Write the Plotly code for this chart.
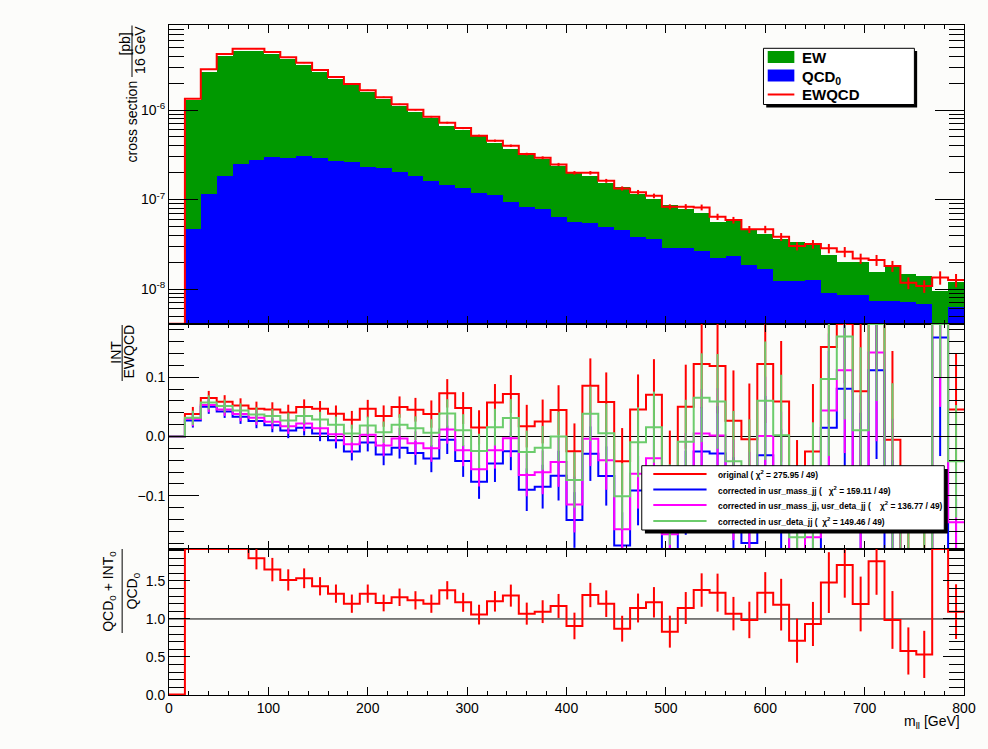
import plotly.graph_objects as go

# ---------------- data (16 GeV bins, 0..800 GeV) ----------------
bin_edges = list(range(0, 801, 16))
bin_centers = [e + 8 for e in bin_edges[:-1]]

# top panel: cross section [pb]/16 GeV
ewqcd = [0, 1.34e-6, 2.85e-6, 4.22e-6, 4.84e-6, 4.84e-6, 4.45e-6, 3.88e-6, 3.38e-6, 2.80e-6,
         2.34e-6, 1.95e-6, 1.66e-6, 1.39e-6, 1.158e-6, 1.008e-6, 8.41e-7, 7.22e-7, 6.29e-7, 5.16e-7,
         4.54e-7, 3.99e-7, 3.22e-7, 2.93e-7, 2.47e-7, 1.99e-7, 1.99e-7, 1.62e-7, 1.33e-7, 1.21e-7,
         1.10e-7, 8.31e-8, 8.31e-8, 8.18e-8, 6.43e-8, 5.90e-8, 4.65e-8, 4.65e-8, 3.84e-8, 3.02e-8,
         3.18e-8, 2.85e-8, 2.61e-8, 2.20e-8, 2.11e-8, 1.81e-8, 1.175e-8, 1.08e-8, 1.35e-8, 1.26e-8]
ewqcd_relerr = [0, 0.01, 0.01, 0.01, 0.01, 0.01, 0.01, 0.012, 0.012, 0.013,
                0.014, 0.015, 0.016, 0.017, 0.018, 0.02, 0.022, 0.024, 0.026, 0.028,
                0.03, 0.032, 0.035, 0.037, 0.04, 0.045, 0.045, 0.05, 0.055, 0.058,
                0.06, 0.065, 0.07, 0.075, 0.08, 0.085, 0.09, 0.095, 0.1, 0.105,
                0.11, 0.12, 0.13, 0.13, 0.14, 0.14, 0.15, 0.16, 0.17, 0.17]
# top of the EW + QCD0 stack
ew_plus_qcd0 = [0, 1.289e-6, 2.665e-6, 3.97e-6, 4.586e-6, 4.61e-6, 4.245e-6, 3.72e-6, 3.21e-6, 2.67e-6,
                2.25e-6, 1.895e-6, 1.582e-6, 1.342e-6, 1.100e-6, 9.63e-7, 8.09e-7, 6.69e-7, 5.99e-7, 5.08e-7,
                4.28e-7, 3.70e-7, 3.16e-7, 2.86e-7, 2.36e-7, 2.04e-7, 1.82e-7, 1.526e-7, 1.386e-7, 1.154e-7,
                1.022e-7, 8.79e-8, 7.89e-8, 7.17e-8, 5.66e-8, 5.74e-8, 4.67e-8, 4.08e-8, 3.61e-8, 3.37e-8,
                3.26e-8, 2.42e-8, 2.01e-8, 2.03e-8, 1.56e-8, 1.82e-8, 1.47e-8, 1.39e-8, 9.45e-9, 1.20e-8]
qcd0 = [0, 4.65e-8, 1.14e-7, 1.85e-7, 2.47e-7, 2.76e-7, 2.98e-7, 2.93e-7, 3.09e-7, 2.93e-7,
        2.71e-7, 2.62e-7, 2.33e-7, 2.23e-7, 2.01e-7, 1.85e-7, 1.61e-7, 1.44e-7, 1.34e-7, 1.18e-7,
        1.12e-7, 9.45e-8, 8.24e-8, 7.77e-8, 6.43e-8, 5.56e-8, 5.42e-8, 4.97e-8, 4.56e-8, 3.84e-8,
        3.59e-8, 2.89e-8, 2.89e-8, 2.68e-8, 2.22e-8, 2.34e-8, 1.85e-8, 1.67e-8, 1.23e-8, 1.23e-8,
        1.26e-8, 9.1e-9, 8.5e-9, 8.6e-9, 7.35e-9, 7.35e-9, 7.1e-9, 6.8e-9, 0, 6.34e-9]

# middle panel: INT / EWQCD
ratio_original = [0, 0.0379, 0.065, 0.0588, 0.0525, 0.0469, 0.0458, 0.0407, 0.0497, 0.0469,
                  0.0384, 0.0282, 0.0469, 0.0345, 0.0497, 0.0452, 0.0379, 0.0729, 0.048, 0.0153,
                  0.0576, 0.0718, 0.0175, 0.0254, 0.0446, -0.0249, 0.0859, 0.0582, -0.0418, 0.0458,
                  0.0706, -0.058, 0.0503, 0.1226, 0.119, 0.0266, -0.0045, 0.1226, 0.0593, -0.116,
                  -0.0254, 0.151, 0.23, 0.0763, 0.26, -0.0056, -0.25, -0.29, 0.30, 0.0458]
ratio_mass = [0, 0.0271, 0.0503, 0.0424, 0.0333, 0.026, 0.0192, 0.0102, 0.0147, 0.0051,
              -0.0062, -0.0254, -0.0102, -0.0305, -0.0192, -0.0277, -0.0373, -0.0056, -0.0412, -0.0763,
              -0.0458, -0.0249, -0.0898, -0.0847, -0.0661, -0.141, -0.029, -0.0667, -0.184, -0.091,
              -0.066, -0.19, -0.095, -0.0254, -0.0288, -0.12, -0.18, -0.0316, -0.09, -0.26,
              -0.2, 0.0147, 0.0808, -0.1, 0.112, -0.19, -0.38, -0.4, 0.167, -0.2]
ratio_mass_deta = [0, 0.0294, 0.0531, 0.0458, 0.0379, 0.0316, 0.0249, 0.0175, 0.022, 0.0141,
                   0.004, -0.013, 0.0028, -0.0153, -0.0034, -0.0113, -0.0198, 0.0119, -0.0232, -0.0554,
                   -0.0232, -0.0028, -0.065, -0.0605, -0.043, -0.115, -0.004, -0.040, -0.1565, -0.0627,
                   -0.0367, -0.165, -0.065, 0.0051, 0.0017, -0.09, -0.12, 0.001, -0.06, -0.23,
                   -0.17, 0.044, 0.112, -0.07, 0.142, -0.12, -0.35, -0.38, 0.25, -0.145]
ratio_deta = [0, 0.0316, 0.0576, 0.0514, 0.044, 0.0373, 0.0345, 0.0271, 0.0345, 0.0288,
              0.0198, 0.0051, 0.0186, 0.0073, 0.0198, 0.0141, 0.0062, 0.039, 0.0107, -0.0243,
              0.0158, 0.0311, -0.026, -0.0192, 0.0, -0.0734, 0.0384, 0.0056, -0.101, -0.0096,
              0.0158, -0.115, -0.009, 0.0655, 0.0593, -0.0418, -0.065, 0.0605, 0.0023, -0.17,
              -0.09, 0.097, 0.169, 0.0107, 0.21, -0.06, -0.3, -0.33, 0.3, -0.042]
ratio_err = [0, 0.012, 0.012, 0.011, 0.012, 0.012, 0.012, 0.013, 0.013, 0.013,
             0.014, 0.015, 0.015, 0.018, 0.018, 0.02, 0.023, 0.024, 0.027, 0.029,
             0.031, 0.032, 0.036, 0.037, 0.042, 0.047, 0.046, 0.05, 0.056, 0.059,
             0.06, 0.068, 0.071, 0.075, 0.08, 0.085, 0.094, 0.1, 0.102, 0.11,
             0.114, 0.13, 0.14, 0.14, 0.15, 0.15, 0.16, 0.17, 0.2, 0.095]

# bottom panel: (QCD0 + INT0) / QCD0
ratio_qcd = [0, 2.1, 2.6, 2.6, 2.4, 1.797, 1.649, 1.513, 1.535, 1.43,
             1.333, 1.201, 1.333, 1.21, 1.285, 1.245, 1.201, 1.377, 1.219, 1.057,
             1.232, 1.307, 1.07, 1.096, 1.171, 0.908, 1.315, 1.201, 0.872, 1.144,
             1.219, 0.833, 1.144, 1.38, 1.346, 1.07, 0.987, 1.346, 1.188, 0.714,
             0.934, 1.478, 1.71, 1.197, 1.758, 0.987, 0.579, 0.534, 5.0, 1.096]
ratio_qcd_err = [0, 0, 0, 0, 0, 0.145, 0.154, 0.14, 0.13, 0.12,
                 0.12, 0.12, 0.12, 0.11, 0.115, 0.12, 0.12, 0.12, 0.125, 0.13,
                 0.135, 0.145, 0.145, 0.15, 0.158, 0.175, 0.16, 0.175, 0.17, 0.19,
                 0.2, 0.21, 0.21, 0.22, 0.25, 0.22, 0.24, 0.27, 0.34, 0.29,
                 0.29, 0.4, 0.43, 0.36, 0.44, 0.38, 0.31, 0.31, 0, 0.36]

legend_top = ["EW", "QCD<sub>0</sub>", "EWQCD"]
legend_mid = ["original ( \u03c7<sup>2</sup> = 275.95 / 49)",
              "corrected in usr_mass_jj (\u00a0\u00a0\u00a0\u03c7<sup>2</sup> = 159.11 / 49)",
              "corrected in usr_mass_jj, usr_deta_jj (\u00a0\u00a0\u00a0\u00a0\u03c7<sup>2</sup> = 136.77 / 49)",
              "corrected in usr_deta_jj (\u00a0\u00a0\u03c7<sup>2</sup> = 149.46 / 49)"]

# ---------------- styling ----------------
W, H = 988, 749
L, R, T, B = 169, 975, 25, 695
FONT = "Liberation Sans, Arial, Helvetica, sans-serif"
C_EW = "#009900"
C_QCD = "#0000ff"
C_RED = "#ff0000"
C_MAG = "#ff00ff"
C_LGR = "#6ccc6c"
BG = "#fcfcfa"

TOP_LO, TOP_HI = -8.39, -5.05
MID_LO, MID_HI = -0.19, 0.19
BOT_LO, BOT_HI = 0.0, 1.92


def px(x):
    return (x - L) / (R - L)


def py(y):
    return (B - y) / (B - T)


def step_xy(vals, lo=None, hi=None):
    ys = []
    for v in vals:
        if lo is not None:
            v = max(lo, min(hi, v))
        ys.append(v)
    return list(bin_edges), ys + [ys[-1]]


fig = go.Figure()

# ---- top panel ----
fig.add_trace(go.Bar(x=bin_centers, y=[v if v > 0 else None for v in ew_plus_qcd0], width=16,
                     marker=dict(color=C_EW, line=dict(width=0)), xaxis="x", yaxis="y",
                     showlegend=False))
fig.add_trace(go.Bar(x=bin_centers, y=[v if v > 0 else None for v in qcd0], width=16,
                     marker=dict(color=C_QCD, line=dict(width=0)), xaxis="x", yaxis="y",
                     showlegend=False))
sx, sy = step_xy([v if v > 0 else 10 ** (TOP_LO + 0.004) for v in ewqcd])
fig.add_trace(go.Scatter(x=sx, y=sy, mode="lines", line=dict(color=C_RED, width=2, shape="hv"),
                         xaxis="x", yaxis="y", showlegend=False))
idx = [i for i in range(len(ewqcd)) if ewqcd[i] > 0]
fig.add_trace(go.Scatter(x=[bin_centers[i] for i in idx], y=[ewqcd[i] for i in idx], mode="markers",
                         marker=dict(size=1, color="rgba(0,0,0,0)"),
                         error_y=dict(type="data", array=[ewqcd[i] * ewqcd_relerr[i] for i in idx],
                                      color=C_RED, thickness=2, width=0),
                         xaxis="x", yaxis="y", showlegend=False))

# ---- middle panel ----
for vals, col in [(ratio_original, C_RED), (ratio_mass, C_QCD), (ratio_mass_deta, C_MAG), (ratio_deta, C_LGR)]:
    sx, sy = step_xy(vals, MID_LO, MID_HI)
    fig.add_trace(go.Scatter(x=sx, y=sy, mode="lines", line=dict(color=col, width=2, shape="hv"),
                             xaxis="x2", yaxis="y2", showlegend=False))
    fig.add_trace(go.Scatter(x=bin_centers[1:], y=vals[1:], mode="markers",
                             marker=dict(size=1, color="rgba(0,0,0,0)"),
                             error_y=dict(type="data", array=ratio_err[1:], color=col, thickness=2, width=0),
                             xaxis="x2", yaxis="y2", showlegend=False))

# ---- bottom panel ----
sx, sy = step_xy(ratio_qcd, BOT_LO + 0.006, BOT_HI)
fig.add_trace(go.Scatter(x=sx, y=sy, mode="lines", line=dict(color=C_RED, width=2, shape="hv"),
                         xaxis="x3", yaxis="y3", showlegend=False))
fig.add_trace(go.Scatter(x=bin_centers, y=ratio_qcd, mode="markers",
                         marker=dict(size=1, color="rgba(0,0,0,0)"),
                         error_y=dict(type="data", array=ratio_qcd_err, color=C_RED, thickness=2, width=0),
                         xaxis="x3", yaxis="y3", showlegend=False))

# ---------------- axes ----------------
d_top = [py(324), 1.0]
d_mid = [py(549), py(324)]
d_bot = [0.0, py(549)]

xcommon = dict(range=[0, 800], showgrid=False, zeroline=False, showline=True, linecolor="black",
               linewidth=1, mirror="ticks", ticks="inside", ticklen=8, tickcolor="black",
               tick0=0, dtick=100,
               minor=dict(ticks="inside", ticklen=4, dtick=20, tickcolor="black", showgrid=False),
               tickfont=dict(family=FONT, size=14, color="black"))

minor_log = []
for e in range(-9, -4):
    for k in range(2, 10):
        minor_log.append(k * 10 ** e)

fig.update_layout(
    width=W, height=H,
    margin=dict(l=L, r=W - R, t=T, b=H - B, pad=0),
    paper_bgcolor=BG, plot_bgcolor=BG,
    barmode="overlay", bargap=0,
    font=dict(family=FONT, size=14, color="black"),
    showlegend=False,
    xaxis=dict(xcommon, anchor="y", showticklabels=False),
    xaxis2=dict(xcommon, anchor="y2", showticklabels=False, matches="x"),
    xaxis3=dict(xcommon, anchor="y3", showticklabels=True, matches="x"),
    yaxis=dict(domain=d_top, type="log", range=[TOP_LO, TOP_HI], showgrid=False, zeroline=False,
               showline=True, linecolor="black", linewidth=1, mirror="ticks",
               ticks="inside", ticklen=29, tickcolor="black",
               tickvals=[1e-8, 1e-7, 1e-6], ticktext=["10<sup>-8</sup>", "10<sup>-7</sup>", "10<sup>-6</sup>"],
               minor=dict(ticks="inside", ticklen=15, tickvals=minor_log, tickcolor="black", showgrid=False),
               tickfont=dict(family=FONT, size=14, color="black")),
    yaxis2=dict(domain=d_mid, range=[MID_LO, MID_HI], showgrid=False, zeroline=False,
                showline=True, linecolor="black", linewidth=1, mirror="ticks",
                ticks="inside", ticklen=30, tickcolor="black", tick0=0, dtick=0.1, tickformat=".1f",
                minor=dict(ticks="inside", ticklen=15, dtick=0.02, tickcolor="black", showgrid=False),
                tickfont=dict(family=FONT, size=14, color="black")),
    yaxis3=dict(domain=d_bot, range=[BOT_LO, BOT_HI], showgrid=False, zeroline=False,
                showline=True, linecolor="black", linewidth=1, mirror="ticks",
                ticks="inside", ticklen=21, tickcolor="black", tick0=0, dtick=0.5, tickformat=".1f",
                minor=dict(ticks="inside", ticklen=15, dtick=0.1, tickcolor="black", showgrid=False),
                tickfont=dict(family=FONT, size=14, color="black")),
)

shapes = []
ann = []

# reference lines
shapes.append(dict(type="line", xref="x2", yref="y2", x0=0, x1=800, y0=0, y1=0,
                   line=dict(color="black", width=1), layer="below"))
shapes.append(dict(type="line", xref="x3", yref="y3", x0=0, x1=800, y0=1, y1=1,
                   line=dict(color="black", width=1), layer="below"))


def prect(x0, y0, x1, y1, fill, line_color=None, lw=0):
    return dict(type="rect", xref="paper", yref="paper", x0=px(x0), x1=px(x1), y0=py(y1), y1=py(y0),
                fillcolor=fill, line=dict(color=line_color or fill, width=lw), layer="above")


def pline(x0, y0, x1, y1, color, w):
    return dict(type="line", xref="paper", yref="paper", x0=px(x0), x1=px(x1), y0=py(y0), y1=py(y1),
                line=dict(color=color, width=w), layer="above")


def ptext(x, y, text, size, xanchor="left", angle=0, bold=False):
    if bold:
        text = "<b>" + text + "</b>"
    return dict(xref="paper", yref="paper", x=px(x), y=py(y), text=text, showarrow=False,
                xanchor=xanchor, yanchor="middle", textangle=angle,
                font=dict(family=FONT, size=size, color="black"))


# legend 1 (top)
shapes.append(prect(774.5, 51, 927.5, 107.5, "black"))
shapes.append(prect(771.7, 48.3, 924.7, 104.5, "white", "black", 1))
shapes.append(prect(776, 51, 803, 63, C_EW))
shapes.append(prect(776, 69.5, 803, 81.5, C_QCD))
shapes.append(pline(776, 94.5, 803, 94.5, C_RED, 2))
ann.append(ptext(809, 57.5, legend_top[0], 15, bold=True))
ann.append(ptext(809, 77, legend_top[1], 15, bold=True))
ann.append(ptext(809, 95, legend_top[2], 15, bold=True))

# legend 2 (middle)
shapes.append(prect(651.5, 469, 958.5, 533.5, "black"))
shapes.append(prect(648.3, 465.7, 955, 530, "white", "black", 1))
for yy, col, txt in zip([474, 489.5, 505, 521], [C_RED, C_QCD, C_MAG, C_LGR], legend_mid):
    shapes.append(pline(660, yy, 714, yy, col, 2))
    ann.append(ptext(724, yy + 0.5, txt, 8.4, bold=True))

# y-axis titles (ROOT-style fractions, rotated)
ann.append(ptext(131, 122, "cross section", 14, xanchor="center", angle=-90))
ann.append(ptext(124, 44, "[pb]", 14, xanchor="center", angle=-90))
ann.append(ptext(139.5, 50, "16 GeV", 14, xanchor="center", angle=-90))
shapes.append(pline(131.5, 25.5, 131.5, 77, "black", 1))

ann.append(ptext(115, 352, "INT", 14, xanchor="center", angle=-90))
ann.append(ptext(128, 352, "EWQCD", 14, xanchor="center", angle=-90))
shapes.append(pline(121.5, 325, 121.5, 381, "black", 1))

ann.append(ptext(108, 591, "QCD<sub>0</sub> + INT<sub>0</sub>", 14, xanchor="center", angle=-90))
ann.append(ptext(133, 591, "QCD<sub>0</sub>", 14, xanchor="center", angle=-90))
shapes.append(pline(121.5, 549, 121.5, 633, "black", 1))

# x-axis title
ann.append(ptext(973, 722, "m<sub>ll</sub> [GeV]", 14, xanchor="right"))

fig.update_layout(shapes=shapes, annotations=ann)

fig.write_html("out.html", config={"displayModeBar": False},
               post_script="document.body.style.margin='0px';document.body.style.overflow='hidden';"
                           "document.body.style.background='" + BG + "';")
